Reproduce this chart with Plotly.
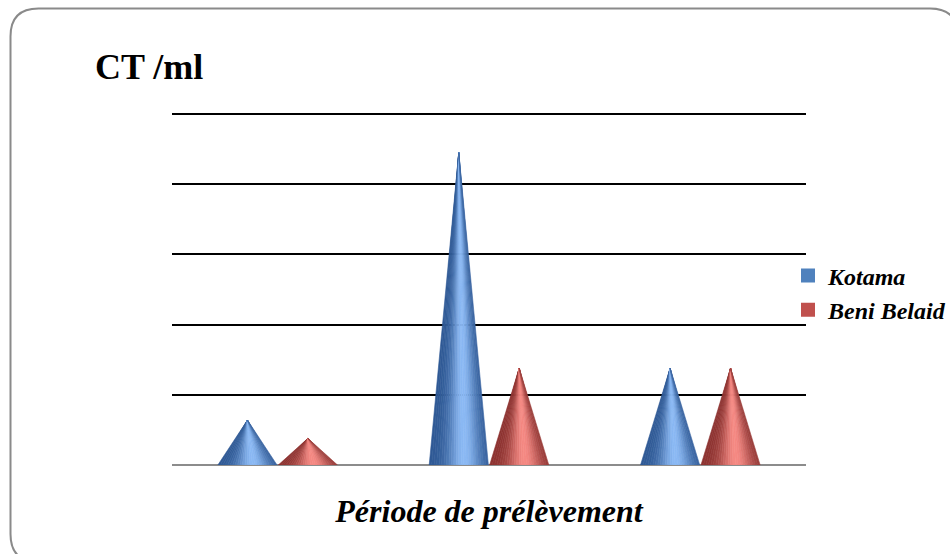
import math
import plotly.graph_objects as go

# ---- data ----
categories = ["Période 1", "Période 2", "Période 3"]
series_names = ["Kotama", "Beni Belaid"]
kotama = [0.64, 4.45, 1.38]
beni_belaid = [0.38, 1.38, 1.38]
y_max = 5.043

# ---- styling ----
FONT = "Liberation Serif"
W, H = 950, 554
ML, MR, MT, MB = 172, 144, 111, 89
series_values = [kotama, beni_belaid]
base_colors = ["#4F81BD", "#C0504D"]
dark_colors = [(46, 88, 148), (140, 50, 48)]
light_colors = [(140, 186, 245), (246, 138, 132)]
offsets = [-0.143, 0.143]
half_w = 0.14
N_SEG = 24

def shade(dark, light, t):
    f = math.exp(-((t - 0.6) / 0.28) ** 2)
    c = [int(d + (l - d) * f) for d, l in zip(dark, light)]
    return "rgb(%d,%d,%d)" % tuple(c)

fig = go.Figure()
for s, vals in enumerate(series_values):
    for ci, v in enumerate(vals):
        xc = ci + offsets[s]
        xl, xr = xc - half_w, xc + half_w
        for i in range(N_SEG):
            t = (i + 0.5) / N_SEG
            b0 = xl + (xr - xl) * i / N_SEG
            b1 = xl + (xr - xl) * (i + 1) / N_SEG
            col = shade(dark_colors[s], light_colors[s], t)
            fig.add_trace(go.Scatter(
                x=[xc, b0, b1, xc], y=[v, 0, 0, v],
                mode="lines", fill="toself", fillcolor=col,
                line=dict(color=col, width=0.6),
                hoverinfo="skip", showlegend=False))

# legend entries
for s, name in enumerate(series_names):
    fig.add_trace(go.Scatter(
        x=[None], y=[None], mode="markers", name=name,
        legendgroup=name,
        marker=dict(symbol="square", size=14, color=base_colors[s])))

# rounded outer frame (pixel -> paper)
PW, PH = W - ML - MR, H - MT - MB
def px(x):
    return (x - ML) / PW
def py(y):
    return (H - MB - y) / PH

L, T, R, B, r = 10.5, 8.5, 958, 562, 28
pts = [
    ("M", [(L, T + r)]),
    ("Q", [(L, T), (L + r, T)]),
    ("L", [(R - r, T)]),
    ("Q", [(R, T), (R, T + r)]),
    ("L", [(R, B - r)]),
    ("Q", [(R, B), (R - r, B)]),
    ("L", [(L + r, B)]),
    ("Q", [(L, B), (L, B - r)]),
]
path = ""
for cmd, ps in pts:
    path += cmd + " " + " ".join("%.5f,%.5f" % (px(a), py(b)) for a, b in ps) + " "
path += "Z"

fig.update_layout(
    width=W, height=H,
    margin=dict(l=ML, r=MR, t=MT, b=MB, autoexpand=False),
    paper_bgcolor="white", plot_bgcolor="white",
    title=dict(text="CT /ml", x=95 / W, xanchor="left", y=1 - 66 / H, yanchor="middle",
               font=dict(family=FONT, size=36, color="black", weight="bold")),
    xaxis=dict(range=[-0.5, 2.5], showgrid=False, zeroline=False, showline=False,
               showticklabels=False, ticks="",
               title=dict(text="Période de prélèvement", standoff=34,
                          font=dict(family=FONT, size=32, color="black",
                                    weight="bold", style="italic"))),
    yaxis=dict(range=[0, y_max], dtick=1, showgrid=True, gridcolor="black", gridwidth=2,
               showticklabels=False, ticks="", zeroline=True, zerolinecolor="#8c8c8c",
               zerolinewidth=2, showline=False),
    legend=dict(x=px(788), xanchor="left", y=py(293), yanchor="middle",
                bgcolor="rgba(0,0,0,0)", tracegroupgap=0, itemwidth=30,
                font=dict(family=FONT, size=24, color="black", weight="bold", style="italic")),
    shapes=[dict(type="path", xref="paper", yref="paper", path=path,
                 line=dict(color="#8a8a8a", width=2), fillcolor="rgba(0,0,0,0)", layer="above")],
    showlegend=True,
)

fig.write_html("out.html", config={"displayModeBar": False},
               post_script="document.body.style.margin='0';")
